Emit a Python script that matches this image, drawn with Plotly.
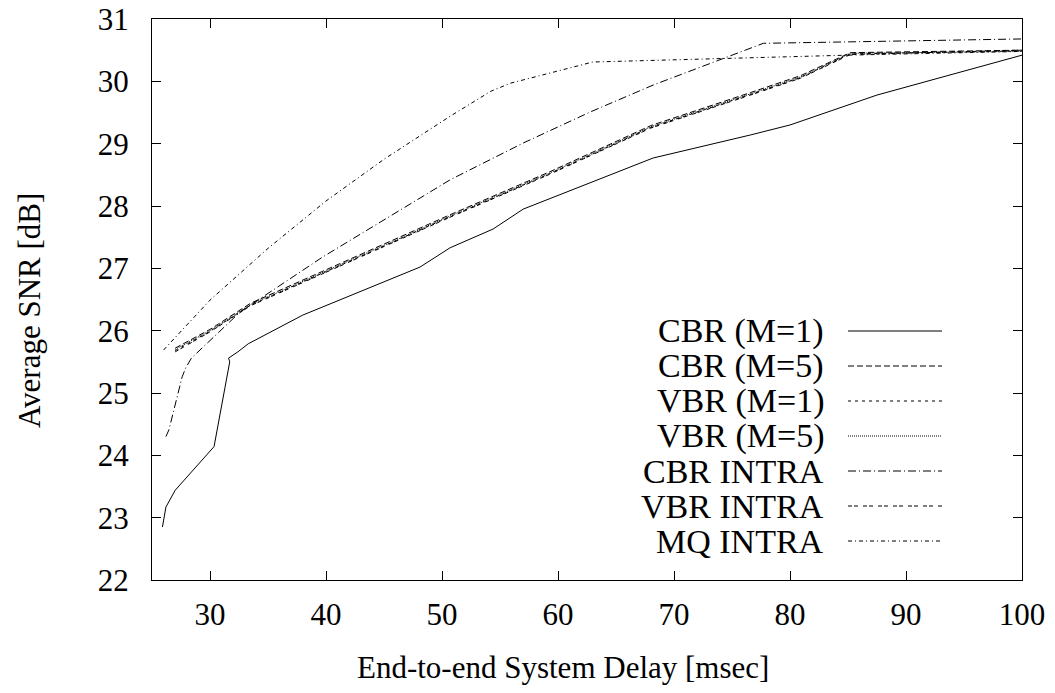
import plotly.graph_objects as go

# ---- data ----
cbr_m1_x = [25.9, 26.2, 27.0, 30.35, 31.7, 31.6, 32.4, 33.3, 38.0, 48.1, 50.7, 54.4, 57.0, 68.2, 76.6, 80.0, 87.5, 100]
cbr_m1_y = [22.85, 23.17, 23.44, 24.14, 25.50, 25.56, 25.66, 25.79, 26.25, 27.02, 27.33, 27.63, 27.95, 28.77, 29.14, 29.30, 29.78, 30.42]

cluster_x = [27.0, 30.0, 33.5, 42.0, 50.7, 59.3, 68.0, 76.6, 80.9, 85.2, 100]
cbr_m5_y = [25.72, 26.02, 26.44, 27.14, 27.86, 28.55, 29.29, 29.82, 30.09, 30.46, 30.50]
vbr_m1_y = [25.68, 25.99, 26.41, 27.11, 27.83, 28.52, 29.26, 29.79, 30.06, 30.44, 30.49]
vbr_m5_y = [25.70, 26.00, 26.42, 27.12, 27.84, 28.53, 29.27, 29.80, 30.07, 30.45, 30.48]
vbr_intra_y = [25.66, 25.98, 26.40, 27.10, 27.82, 28.51, 29.25, 29.78, 30.05, 30.43, 30.50]

cbr_intra_x = [26.2, 26.46, 27.6, 27.9, 28.4, 32.6, 39.7, 50.7, 57.0, 62.8, 68.2, 74.6, 76.6, 77.7, 100]
cbr_intra_y = [24.30, 24.41, 25.26, 25.40, 25.56, 26.30, 27.18, 28.42, 29.01, 29.51, 29.94, 30.39, 30.53, 30.61, 30.68]

mq_intra_x = [26.0, 30.0, 35.0, 40.0, 45.0, 50.7, 54.2, 55.9, 63.0, 74.3, 85.0, 100]
mq_intra_y = [25.69, 26.49, 27.32, 28.08, 28.75, 29.44, 29.84, 29.97, 30.31, 30.37, 30.42, 30.48]

names = ["CBR (M=1)", "CBR (M=5)", "VBR (M=1)", "VBR (M=5)", "CBR INTRA", "VBR INTRA", "MQ INTRA"]
xs = [cbr_m1_x, cluster_x, cluster_x, cluster_x, cbr_intra_x, cluster_x, mq_intra_x]
ys = [cbr_m1_y, cbr_m5_y, vbr_m1_y, vbr_m5_y, cbr_intra_y, vbr_intra_y, mq_intra_y]
dashes = ["solid", "6px,3px", "3px,4px", "1px,1px", "8px,3px,1px,3px", "4px,2px,4px,5px", "4px,3px,1px,3px"]

x_ticks = [30, 40, 50, 60, 70, 80, 90, 100]
y_ticks = [22, 23, 24, 25, 26, 27, 28, 29, 30, 31]
x_title = "End-to-end System Delay [msec]"
y_title = "Average SNR [dB]"

FONT = "Liberation Serif"

# body margin is removed by the post script: plot area at x 152..1022, y 19..580
W, H = 1055, 693
ML, MR, MT, MB = 152, 33, 19, 113
PW, PH = W - ML - MR, H - MT - MB


def px(xp):
    return (xp - ML) / PW


def py(yp):
    return (H - MB - yp) / PH


fig = go.Figure()
for n, x, y, d in zip(names, xs, ys, dashes):
    fig.add_trace(go.Scatter(x=x, y=y, mode="lines", name=n,
                             line=dict(color="black", width=1, dash=d),
                             showlegend=False))

# gnuplot-style legend: text right-aligned, line sample to the right
for i, (n, d) in enumerate(zip(names, dashes)):
    yy = py(331 + 35 * i)
    fig.add_annotation(x=px(826), y=yy, xref="paper", yref="paper",
                       text=n, showarrow=False, xanchor="right", yanchor="middle",
                       font=dict(family=FONT, size=34, color="black"))
    fig.add_shape(type="line", xref="paper", yref="paper",
                  x0=px(848), x1=px(942), y0=yy, y1=yy,
                  line=dict(color="black", width=1, dash=d))

# axis titles
fig.add_annotation(x=px(563), y=py(667), xref="paper", yref="paper", text=x_title,
                   showarrow=False, xanchor="center", yanchor="middle",
                   font=dict(family=FONT, size=31, color="black"))
fig.add_annotation(x=px(29), y=py(311), xref="paper", yref="paper", text=y_title,
                   showarrow=False, xanchor="center", yanchor="middle", textangle=-90,
                   font=dict(family=FONT, size=31, color="black"))

axis_common = dict(showgrid=False, zeroline=False, showline=True, linecolor="black",
                   linewidth=1, mirror="allticks", ticks="inside", ticklen=9,
                   tickcolor="black", tickwidth=1, automargin=False,
                   ticklabeloverflow="allow",
                   tickfont=dict(family=FONT, size=31, color="black"))

fig.update_xaxes(range=[25, 100], tickvals=x_ticks, ticktext=[str(v) for v in x_ticks],
                 ticklabelstandoff=7, **axis_common)
fig.update_yaxes(range=[22, 31], tickvals=y_ticks, ticktext=[str(v) for v in y_ticks],
                 ticklabelstandoff=16, **axis_common)

fig.update_layout(width=W, height=H, plot_bgcolor="white", paper_bgcolor="white",
                  margin=dict(l=ML, r=MR, t=MT, b=MB), showlegend=False,
                  hovermode=False,
                  font=dict(family=FONT, color="black"))

fig.write_html("out.html", config={"displayModeBar": False, "staticPlot": True},
               post_script="document.body.style.margin='0';document.body.style.overflow='hidden';")
